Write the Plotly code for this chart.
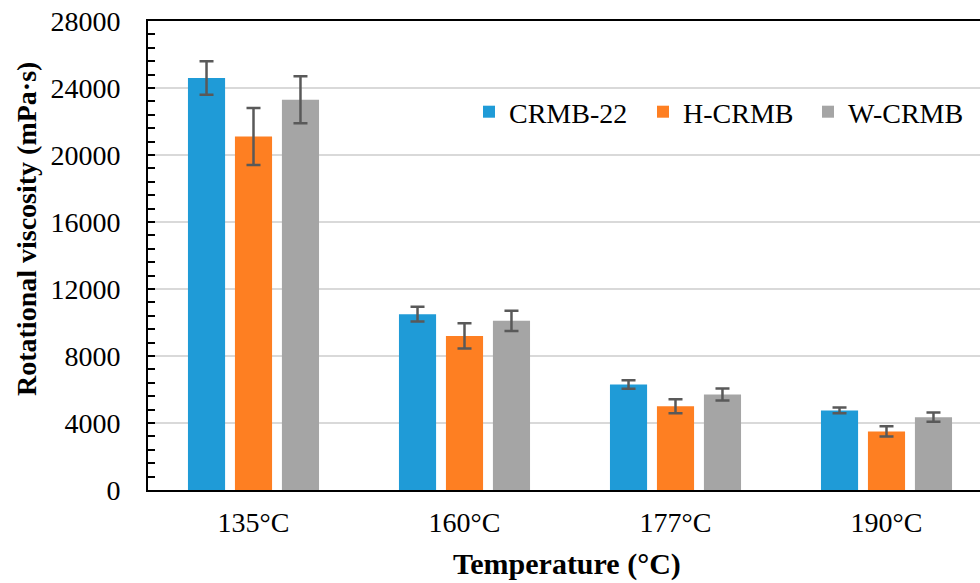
import plotly.graph_objects as go

# Rotational viscosity of the binders at each test temperature
temperatures = ["135°C", "160°C", "177°C", "190°C"]
series_names = ["CRMB-22", "H-CRMB", "W-CRMB"]

crmb22 = [24600, 10500, 6300, 4750]
crmb22_err = [1000, 440, 250, 170]

h_crmb = [21100, 9200, 5000, 3500]
h_crmb_err = [1700, 750, 420, 300]

w_crmb = [23300, 10100, 5700, 4350]
w_crmb_err = [1400, 600, 360, 270]

y_ticks = [0, 4000, 8000, 12000, 16000, 20000, 24000, 28000]

colors = ["#1f9bd7", "#fe7f22", "#a5a5a5"]
FONT = "Liberation Serif"

W, H = 980, 583
L, R, T, B = 148, 0, 21, 93
pw, ph = W - L - R, H - T - B
cat_px = 211.0

def px_x(px):
    return (px - L) / pw

def px_y(py):
    return (H - B - py) / ph

# each series gets its own legend box so the entries sit at fixed spots
legend_ids = ["legend", "legend2", "legend3"]
legend_left_px = [469, 643, 808]

fig = go.Figure()
for name, vals, errs, col, lg in zip(series_names,
                                     [crmb22, h_crmb, w_crmb],
                                     [crmb22_err, h_crmb_err, w_crmb_err],
                                     colors, legend_ids):
    fig.add_trace(go.Bar(
        x=temperatures, y=vals, name=name, legend=lg,
        marker=dict(color=col, line=dict(width=0)),
        error_y=dict(type="data", array=errs, visible=True,
                     color="#595959", thickness=2.5, width=7),
    ))

legend_style = dict(orientation="h", xanchor="left", yanchor="middle",
                    font=dict(family=FONT, size=28, color="#000000"),
                    bgcolor="rgba(0,0,0,0)", borderwidth=0)

fig.update_layout(
    width=W, height=H,
    margin=dict(l=L, r=R, t=T, b=B, pad=0),
    paper_bgcolor="white", plot_bgcolor="white",
    font=dict(family=FONT, color="#000000"),
    barmode="group", bargap=0.332, bargroupgap=0.21,
    showlegend=True,
    xaxis=dict(
        range=[-0.5, -0.5 + pw / cat_px],
        showline=True, linecolor="#000000", linewidth=2, mirror=True,
        ticks="", showgrid=False, zeroline=False,
        tickfont=dict(family=FONT, size=28, color="#000000"),
        ticklabelstandoff=6,
    ),
    yaxis=dict(
        range=[0, 28000], tickvals=y_ticks,
        ticktext=[str(v) for v in y_ticks],
        showline=True, linecolor="#000000", linewidth=2,
        ticks="inside", ticklen=7, tickwidth=1.5, tickcolor="#000000",
        minor=dict(dtick=800, ticks="inside", ticklen=7, tickwidth=1.5,
                   tickcolor="#000000", showgrid=False),
        showgrid=True, gridcolor="#d9d9d9", gridwidth=2,
        zeroline=False,
        tickfont=dict(family=FONT, size=28, color="#000000"),
        ticklabelstandoff=20,
    ),
    annotations=[
        dict(text="<b>Rotational viscosity (mPa·s)</b>", textangle=-90,
             xref="paper", yref="paper", x=px_x(27), y=px_y(229),
             xanchor="center", yanchor="middle", showarrow=False,
             font=dict(family=FONT, size=28, color="#000000")),
        dict(text="<b>Temperature (°C)</b>",
             xref="paper", yref="paper", x=px_x(567), y=px_y(564),
             xanchor="center", yanchor="middle", showarrow=False,
             font=dict(family=FONT, size=30, color="#000000")),
    ],
)

for lg, lx in zip(legend_ids, legend_left_px):
    fig.update_layout({lg: dict(legend_style, x=px_x(lx), y=px_y(112))})

fig.write_html("out.html")
